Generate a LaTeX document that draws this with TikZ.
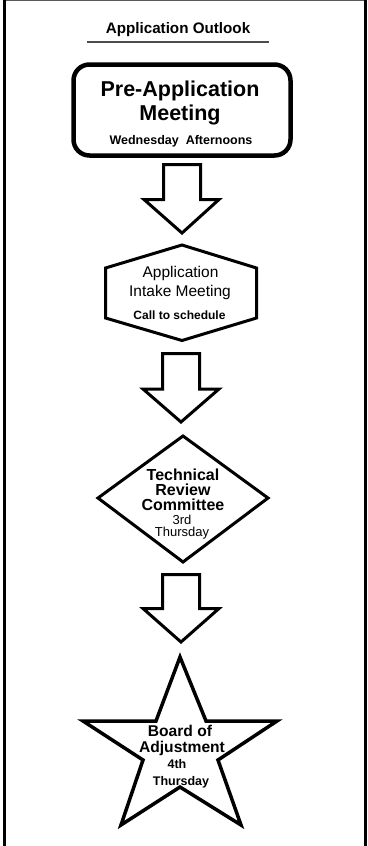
\documentclass[tikz,border=0pt]{standalone}
\usepackage{fontspec}
\setmainfont{Liberation Sans}
\begin{document}
\begin{tikzpicture}[x=1pt,y=-1pt,
  txt/.style={anchor=base,inner sep=0pt,text=black},
  shapeline/.style={draw=black,line width=#1,line join=miter,fill=white},
  blockarrow/.style={draw=black,line width=3,line join=miter,fill=white}]
\useasboundingbox (0,0) rectangle (367,846);
\fill[white] (0,0) rectangle (367,846);
% frame
\draw[gray!70!black,line width=1.3] (4,0.65) -- (364,0.65);
\draw[black,line width=3] (4.5,0) -- (4.5,846);
\draw[black,line width=3] (365.3,0) -- (365.3,846);
% title
\node[txt,font=\fontsize{15.2}{18}\selectfont\bfseries] (title) at (178,33) {Application Outlook};
\draw[gray!60!black,line width=1.2] (87,42) -- (269,42);
% pre-application meeting
\draw[shapeline=4.5,rounded corners=16] (73.5,64.5) rectangle (290.5,155.5);
\node[txt,font=\fontsize{21.5}{24}\selectfont\bfseries] (pre1) at (180,96) {Pre-Application};
\node[txt,font=\fontsize{21.5}{24}\selectfont\bfseries] (pre2) at (180,120) {Meeting};
\node[txt,font=\fontsize{12.5}{14}\selectfont\bfseries] (pre3) at (181,144) {Wednesday\ \ Afternoons};
% arrow 1
\draw[blockarrow] (163.5,164.5) -- (200.5,164.5) -- (200.5,199.5) -- (219,199.5) -- (182,233) -- (144,199.5) -- (163.5,199.5) -- cycle;
% hexagon
\draw[shapeline=3] (182,245) -- (256.5,268) -- (256.5,318) -- (182,340.5) -- (105.5,318) -- (105.5,268) -- cycle;
\node[txt,font=\fontsize{15.5}{18}\selectfont] (hex1) at (180.5,277) {Application};
\node[txt,font=\fontsize{15.5}{18}\selectfont] (hex2) at (180,296) {Intake Meeting};
\node[txt,font=\fontsize{12}{14}\selectfont\bfseries] (hex3) at (179.5,319) {Call to schedule};
% arrow 2
\draw[blockarrow] (162.5,353.5) -- (199.5,353.5) -- (199.5,389) -- (219,389) -- (181,422) -- (143,389) -- (162.5,389) -- cycle;
% diamond
\draw[shapeline=3] (183,436) -- (268,498) -- (183,562) -- (98,498) -- cycle;
\node[txt,font=\fontsize{16}{18}\selectfont\bfseries] (trc1) at (183,480) {Technical};
\node[txt,font=\fontsize{16}{18}\selectfont\bfseries] (trc2) at (183,495) {Review};
\node[txt,font=\fontsize{16}{18}\selectfont\bfseries] (trc3) at (183,510) {Committee};
\node[txt,font=\fontsize{13}{15}\selectfont] (trc4) at (182,524.5) {3rd};
\node[txt,font=\fontsize{13}{15}\selectfont] (trc5) at (182,536.5) {Thursday};
% arrow 3
\draw[blockarrow] (162.5,574.5) -- (199.5,574.5) -- (199.5,608.5) -- (219,608.5) -- (181,642) -- (143,608.5) -- (162.5,608.5) -- cycle;
% star
\draw[shapeline=3.5] (180,657) -- (206,721) -- (277,721) -- (218,760) -- (241,825) -- (180,787) -- (121,825) -- (143,760) -- (83,721) -- (156,721) -- cycle;
\node[txt,font=\fontsize{15.6}{18}\selectfont\bfseries] (boa1) at (180,736) {Board of};
\node[txt,font=\fontsize{15.6}{18}\selectfont\bfseries] (boa2) at (182,752) {Adjustment};
\node[txt,font=\fontsize{12.5}{15}\selectfont\bfseries] (boa3) at (177,768) {4th};
\node[txt,font=\fontsize{12.5}{15}\selectfont\bfseries] (boa4) at (181,785) {Thursday};
\end{tikzpicture}
\end{document}
